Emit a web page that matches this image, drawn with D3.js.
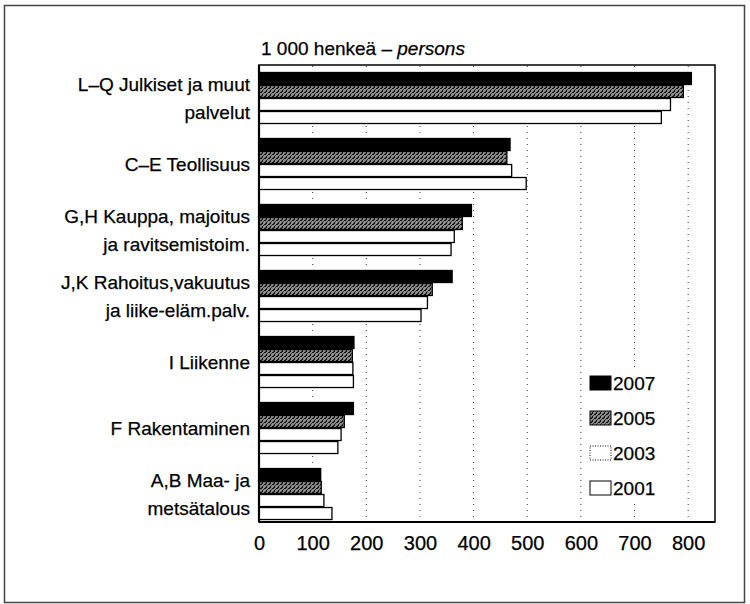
<!DOCTYPE html>
<meta charset="utf-8">
<html>
<head>
<script src="https://cdn.jsdelivr.net/npm/d3@7"></script>
<style>
body {
  margin:0;
  background-color:white;
}
text {
  font-family:"Liberation Sans", Arial, sans-serif;
  font-size:19px;
  fill:black;
  stroke:black;
  stroke-width:0.25;
}
.grid line {
  stroke:#333;
  stroke-width:1;
  stroke-dasharray:1,5;
}
.x-axis path, .x-axis line {
  display:none;
}
</style>
</head>
<body>
<script>

//Data
var labels = [
  ["L–Q Julkiset ja muut", "palvelut"],
  ["C–E Teollisuus"],
  ["G,H Kauppa, majoitus", "ja ravitsemistoim."],
  ["J,K Rahoitus,vakuutus", "ja liike-eläm.palv."],
  ["I Liikenne"],
  ["F Rakentaminen"],
  ["A,B Maa- ja", "metsätalous"]
];
var years = ["2007", "2005", "2003", "2001"];
var v2007 = [806, 468, 396, 360, 177, 176, 115];
var v2005 = [791, 462, 379, 323, 174, 159, 116];
var v2003 = [767, 471, 364, 314, 175, 153, 121];
var v2001 = [750, 498, 358, 302, 176, 147, 136];
var xTicks = [0, 100, 200, 300, 400, 500, 600, 700, 800];

var series = [v2007, v2005, v2003, v2001];

//Container
var svg = d3.select("body")
    .append("svg")
    .attr("width", 750)
    .attr("height", 604);

//Pattern for the 2005 bars
var defs = svg.append("defs");
var pat = defs.append("pattern")
    .attr("id", "dots")
    .attr("width", 4)
    .attr("height", 4)
    .attr("patternUnits", "userSpaceOnUse");
pat.append("rect").attr("width", 4).attr("height", 4).attr("fill", "#8c8c8c");
pat.append("rect").attr("x", 0).attr("y", 0).attr("width", 2).attr("height", 1).attr("fill", "#111");
pat.append("rect").attr("x", 2).attr("y", 2).attr("width", 1).attr("height", 2).attr("fill", "#111");
pat.append("rect").attr("x", 3).attr("y", 1).attr("width", 1).attr("height", 1).attr("fill", "#333");
pat.append("rect").attr("x", 1).attr("y", 3).attr("width", 1).attr("height", 1).attr("fill", "#333");

var fills = ["#000", "url(#dots)", "#fff", "#fff"];

//Outer frame
svg.append("rect")
    .attr("x", 4.5).attr("y", 5.5)
    .attr("width", 740).attr("height", 597)
    .attr("fill", "none")
    .attr("stroke", "#444")
    .attr("stroke-width", 1.5);

//Scales
var x = d3.scaleLinear()
    .domain([0, 850])
    .range([259, 715]);

var y = d3.scaleBand()
    .domain(d3.range(labels.length))
    .range([65, 522])
    .paddingInner(0.212)
    .paddingOuter(0.068)
    .align(0.78);

var yi = d3.scaleBand()
    .domain(years)
    .range([0, y.bandwidth()]);

//Grid
svg.append("g")
    .attr("class", "grid")
    .selectAll("line")
    .data(xTicks.slice(1))
    .enter()
    .append("line")
    .attr("x1", d => x(d))
    .attr("x2", d => x(d))
    .attr("y1", 66)
    .attr("y2", 521);

//Bars
var groups = svg.selectAll(".grp")
    .data(d3.range(labels.length))
    .enter()
    .append("g")
    .attr("class", "grp")
    .attr("transform", i => `translate(0, ${y(i)})`);

groups.selectAll("rect")
    .data(i => years.map((yr, k) => ({yr: yr, k: k, v: series[k][i]})))
    .enter()
    .append("rect")
    .attr("x", x(0))
    .attr("y", d => yi(d.yr) + 0.5)
    .attr("width", d => x(d.v) - x(0))
    .attr("height", yi.bandwidth() - 1)
    .attr("fill", d => fills[d.k])
    .attr("stroke", "#000")
    .attr("stroke-width", 1.3);

//Category labels
var lab = svg.selectAll(".lab")
    .data(labels)
    .enter()
    .append("text")
    .attr("class", "lab")
    .attr("text-anchor", "end")
    .attr("transform", (d, i) => `translate(250, ${y(i) + y.bandwidth() / 2})`);

lab.selectAll("tspan")
    .data(d => d.map((t, j) => ({t: t, j: j, n: d.length})))
    .enter()
    .append("tspan")
    .attr("x", 0)
    .attr("y", d => d.n == 1 ? 7 : (d.j == 0 ? -7 : 21))
    .text(d => d.t);

//Plot frame
svg.append("rect")
    .attr("x", 259).attr("y", 65)
    .attr("width", 456).attr("height", 457)
    .attr("fill", "none")
    .attr("stroke", "#000")
    .attr("stroke-width", 1.5);

svg.append("line")
    .attr("x1", 259).attr("x2", 715)
    .attr("y1", 522).attr("y2", 522)
    .attr("stroke", "#000")
    .attr("stroke-width", 2.2);

svg.append("line")
    .attr("x1", 259).attr("x2", 259)
    .attr("y1", 65).attr("y2", 522)
    .attr("stroke", "#000")
    .attr("stroke-width", 2.2);

//X axis
svg.append("g")
    .attr("class", "x-axis")
    .attr("transform", "translate(0, 522)")
    .call(d3.axisBottom(x)
      .tickValues(xTicks)
      .tickSize(0)
      .tickPadding(14))
    .call(g => g.selectAll("text")
      .style("font-size", "20px")
      .style("font-family", "'Liberation Sans', Arial, sans-serif")
      .attr("fill", "#000"));

//Title
var title = svg.append("text")
    .attr("x", 261)
    .attr("y", 55);
title.append("tspan").text("1 000 henkeä – ");
title.append("tspan").style("font-style", "italic").text("persons");

//Legend
var leg = svg.append("g");
leg.append("rect")
    .attr("x", 585).attr("y", 368)
    .attr("width", 95).attr("height", 134)
    .attr("fill", "#fff");

var items = leg.selectAll(".item")
    .data(years)
    .enter()
    .append("g")
    .attr("transform", (d, k) => `translate(590, ${383 + k * 35})`);

items.append("rect")
    .attr("x", 0)
    .attr("y", -7)
    .attr("width", 21)
    .attr("height", 14)
    .attr("fill", (d, k) => fills[k])
    .attr("stroke", "#000")
    .attr("stroke-width", 1)
    .attr("stroke-dasharray", (d, k) => k == 2 ? "1,1.5" : null);

items.append("text")
    .attr("x", 23)
    .attr("y", 7)
    .text(d => d);

</script>
</body>
</html>
